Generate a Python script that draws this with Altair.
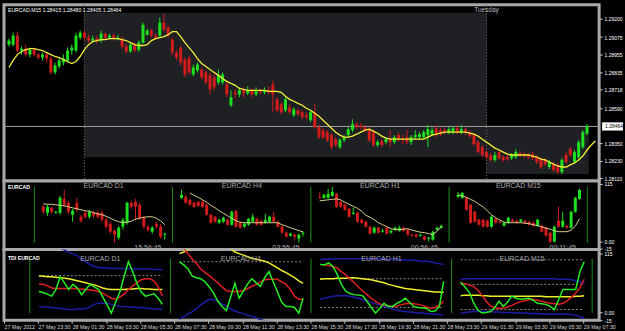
import altair as alt
import pandas as pd

# ---------------- main EURCAD M15 candles (price points, 1e-5) ----------------
OPEN = [129023, 129023, 129085, 128983, 128996, 128955, 128989, 128955, 128935, 128955,
        128928, 128833, 128874, 128901, 128915, 128983, 128983, 129071, 129105, 129071,
        129051, 129064, 129051, 129098, 129071, 129085, 129064, 129064, 129010, 128976,
        129023, 128989, 129037, 129091, 129119, 129085, 129085, 129173, 129139, 129057,
        128969, 129003, 128921, 128928, 128819, 128847, 128853, 128833, 128813, 128799,
        128765, 128765, 128751, 128609, 128697, 128683, 128711, 128690, 128711, 128683,
        128704, 128697, 128711, 128751, 128649, 128615, 128575, 128595, 128541, 128575,
        128561, 128541, 128507, 128561, 128459, 128439, 128425, 128405, 128377, 128323,
        128371, 128405, 128439, 128479, 128473, 128459, 128445, 128425, 128337, 128364,
        128357, 128377, 128357, 128405, 128384, 128391, 128357, 128391, 128391, 128391,
        128405, 128411, 128452, 128439, 128439, 128425, 128425, 128452, 128425, 128445,
        128425, 128405, 128357, 128323, 128289, 128269, 128235, 128289, 128255, 128255,
        128248, 128255, 128282, 128275, 128269, 128275, 128255, 128241, 128235, 128187,
        128207, 128201, 128153, 128269, 128309, 128221, 128255, 128323, 128415]
CLOSE = [129051, 129085, 128983, 128996, 128955, 128989, 128955, 128935, 128955, 128928,
         128833, 128881, 128915, 128928, 128983, 129003, 129085, 129105, 129071, 129051,
         129064, 129051, 129098, 129071, 129085, 129064, 129071, 129010, 128976, 129023,
         128983, 129037, 129159, 129119, 129085, 129071, 129173, 129125, 129085, 128969,
         128935, 128901, 128819, 128833, 128867, 128887, 128799, 128765, 128717, 128731,
         128819, 128819, 128683, 128663, 128683, 128711, 128690, 128711, 128683, 128704,
         128697, 128711, 128697, 128683, 128575, 128561, 128649, 128561, 128581, 128547,
         128527, 128527, 128561, 128459, 128391, 128391, 128371, 128323, 128337, 128371,
         128391, 128445, 128479, 128459, 128459, 128439, 128371, 128337, 128357, 128337,
         128377, 128357, 128391, 128377, 128371, 128357, 128391, 128405, 128411, 128425,
         128445, 128439, 128405, 128411, 128425, 128445, 128452, 128425, 128445, 128425,
         128398, 128343, 128289, 128269, 128255, 128235, 128269, 128248, 128235, 128241,
         128269, 128289, 128269, 128262, 128255, 128248, 128221, 128187, 128207, 128221,
         128167, 128153, 128235, 128221, 128269, 128289, 128357, 128425, 128464]
HIGH = [129064, 129105, 129112, 129010, 129023, 129003, 129003, 128969, 128969, 128969,
        128942, 128901, 128935, 128955, 129003, 129023, 129105, 129119, 129119, 129091,
        129085, 129085, 129119, 129105, 129098, 129098, 129091, 129078, 129030, 129037,
        129037, 129051, 129173, 129132, 129132, 129098, 129207, 129234, 129153, 129071,
        128983, 129017, 128935, 128949, 128887, 128901, 128867, 128847, 128833, 128819,
        128853, 128833, 128765, 128711, 128717, 128731, 128731, 128738, 128724, 128731,
        128724, 128731, 128738, 128779, 128663, 128629, 128663, 128615, 128595, 128588,
        128575, 128561, 128575, 128615, 128473, 128452, 128439, 128418, 128391, 128384,
        128405, 128459, 128513, 128493, 128486, 128473, 128459, 128439, 128371, 128377,
        128391, 128439, 128405, 128425, 128405, 128439, 128405, 128439, 128425, 128439,
        128473, 128459, 128473, 128459, 128452, 128459, 128466, 128473, 128473, 128459,
        128439, 128418, 128371, 128337, 128303, 128282, 128289, 128303, 128269, 128269,
        128282, 128309, 128296, 128289, 128282, 128289, 128269, 128255, 128248, 128235,
        128221, 128214, 128248, 128289, 128323, 128303, 128371, 128439, 128480]
LOW = [129010, 129010, 128969, 128955, 128942, 128935, 128942, 128921, 128915, 128901,
       128819, 128819, 128860, 128881, 128901, 128955, 128969, 129057, 129051, 129037,
       129037, 129030, 129037, 129057, 129057, 129051, 129051, 128996, 128962, 128969,
       128969, 128976, 129030, 129085, 129071, 129057, 129071, 129112, 129071, 128949,
       128915, 128881, 128799, 128819, 128806, 128833, 128785, 128751, 128683, 128711,
       128751, 128751, 128663, 128595, 128656, 128663, 128663, 128677, 128663, 128670,
       128683, 128683, 128683, 128561, 128561, 128547, 128561, 128547, 128527, 128534,
       128513, 128513, 128493, 128445, 128377, 128377, 128357, 128309, 128323, 128309,
       128357, 128391, 128425, 128445, 128445, 128425, 128357, 128323, 128323, 128323,
       128343, 128323, 128343, 128357, 128343, 128343, 128337, 128377, 128377, 128377,
       128323, 128398, 128391, 128398, 128411, 128411, 128411, 128411, 128411, 128405,
       128384, 128330, 128275, 128255, 128241, 128221, 128221, 128235, 128221, 128228,
       128235, 128241, 128255, 128248, 128241, 128235, 128207, 128173, 128194, 128173,
       128153, 128139, 128139, 128207, 128255, 128207, 128241, 128309, 128405]
MA_MAIN = [128867, 128915, 128955, 128976, 128989, 128996, 128996, 128989, 128983, 128969,
           128955, 128942, 128935, 128921, 128908, 128894, 128908, 128942, 128989, 129023,
           129044, 129051, 129057, 129057, 129064, 129064, 129064, 129057, 129051, 129037,
           129023, 129017, 129017, 129023, 129051, 129064, 129071, 129078, 129091, 129112,
           129112, 129078, 129037, 129003, 128969, 128928, 128894, 128874, 128853, 128833,
           128813, 128792, 128772, 128758, 128745, 128724, 128717, 128711, 128711, 128711,
           128711, 128711, 128704, 128704, 128704, 128697, 128670, 128649, 128636, 128622,
           128609, 128588, 128575, 128554, 128534, 128507, 128479, 128452, 128425, 128405,
           128391, 128391, 128398, 128411, 128425, 128439, 128445, 128432, 128418, 128398,
           128384, 128377, 128377, 128377, 128377, 128377, 128377, 128377, 128377, 128377,
           128391, 128405, 128411, 128418, 128425, 128425, 128425, 128425, 128425, 128425,
           128418, 128411, 128398, 128377, 128357, 128337, 128316, 128303, 128289, 128275,
           128269, 128269, 128269, 128269, 128269, 128262, 128255, 128241, 128235, 128221,
           128207, 128194, 128187, 128187, 128201, 128214, 128235, 128262, 128303, 128337,
           128364]

PRICE_TICKS = [1.29200, 1.29075, 1.28955, 1.28835, 1.28718, 1.28590, 1.28350, 1.28230, 1.28110]
BID = 1.28464
BID_BOX = [1.28492, 1.28436]
HEADER = "EURCAD.M15  1.28415 1.28480 1.28405 1.28464"
DAY_BARS = [18, 114]
DAY_NAME = "Tuesday"
BOX_X1 = [18, 114]
BOX_X2 = [114, 138.4]
BOX_HI = [1.29241, 1.28470]
BOX_LO = [1.28255, 1.28139]

X_TICKS = [0, 8, 16, 24, 32, 40, 48, 56, 64, 72, 80, 88, 96, 104, 112, 120, 128, 136]
X_LABELS = ["27 May 2012", "27 May 23:30", "28 May 01:30", "28 May 03:30", "28 May 05:30",
            "28 May 07:30", "28 May 09:30", "28 May 11:30", "28 May 13:30", "28 May 15:30",
            "28 May 17:30", "28 May 19:30", "28 May 21:30", "28 May 23:30", "29 May 01:30",
            "29 May 03:30", "29 May 05:30", "29 May 07:30"]

# ---------------- mini candle panels (0..115 scale), [open, close, high, low] ----------------
TF_NAMES = ["EURCAD D1", "EURCAD H4", "EURCAD H1", "EURCAD M15"]
TF_TIMES = ["15:56:45", "03:55:45", "00:56:45", "00:11:45"]
D1_CANDLES = [[69, 59, 73, 55], [57, 69, 73, 51], [67, 59, 69, 55], [57, 59, 61, 55], [57, 87, 91, 53],
              [85, 73, 103, 69], [77, 59, 81, 55], [53, 61, 65, 39], [77, 63, 87, 59], [49, 41, 53, 37],
              [57, 49, 61, 45], [49, 59, 63, 45], [57, 51, 61, 47], [57, 49, 61, 45], [57, 43, 61, 39],
              [43, 29, 47, 25], [35, 19, 39, 15], [21, 13, 23, -3], [7, 27, 31, 3], [29, 43, 47, 23],
              [37, 77, 79, 33], [77, 69, 81, 65], [79, 69, 85, 43], [73, 47, 77, 43], [47, 29, 51, 25],
              [29, 23, 33, 19], [19, 27, 31, 15], [35, 29, 39, 25], [29, 9, 35, 5], [13, 15, 17, 3]]
H4_CANDLES = [[87, 93, 103, 85], [89, 77, 93, 75], [83, 73, 85, 71], [77, 69, 79, 67], [79, 71, 81, 69],
              [79, 69, 81, 67], [73, 53, 75, 51], [53, 37, 55, 35], [49, 39, 51, 37], [37, 43, 45, 35],
              [39, 47, 49, 37], [43, 33, 45, 31], [33, 59, 61, 31], [61, 29, 63, 27], [37, 27, 39, 25],
              [29, 35, 37, 27], [33, 45, 47, 31], [39, 49, 55, 37], [45, 33, 47, 31], [41, 33, 43, 31],
              [37, 43, 55, 35], [39, 49, 51, 37], [49, 39, 59, 37], [39, 29, 41, 27], [29, 17, 31, 15],
              [17, 9, 19, 7], [11, 15, 17, 9], [13, 9, 15, 1], [5, 13, 15, -3], [15, 17, 19, 9]]
H1_CANDLES = [[89, 87, 99, 85], [87, 93, 95, 85], [87, 95, 105, 85], [91, 99, 109, 89], [95, 69, 97, 67],
              [79, 69, 81, 67], [73, 63, 75, 61], [65, 49, 67, 47], [55, 57, 67, 53], [57, 39, 59, 37],
              [43, 37, 45, 35], [39, 29, 41, 27], [29, 15, 31, 13], [17, 27, 29, 15], [27, 17, 29, 15],
              [19, 21, 25, 17], [27, 15, 29, 13], [17, 21, 23, 15], [23, 27, 29, 21], [21, 27, 31, 19],
              [27, 21, 29, 19], [23, 13, 25, 11], [13, 11, 15, 9], [13, 9, 15, 7], [11, 13, 15, 9],
              [9, 3, 11, 1], [5, 7, 9, -1], [3, 19, 21, 1], [23, 27, 29, 21], [27, 31, 33, 25]]
M15_CANDLES = [[89, 93, 99, 87], [87, 97, 99, 85], [87, 63, 89, 61], [73, 37, 75, 35], [59, 39, 61, 37],
               [43, 33, 45, 31], [43, 29, 45, 27], [41, 29, 43, 27], [29, 49, 51, 27], [45, 37, 47, 35],
               [39, 37, 41, 35], [31, 37, 39, 29], [37, 47, 49, 35], [43, 39, 45, 37], [41, 37, 43, 35],
               [39, 43, 45, 37], [41, 37, 43, 35], [39, 33, 41, 31], [37, 31, 39, 29], [31, 43, 45, 29],
               [31, 19, 33, 17], [27, 11, 29, 9], [17, -1, 19, -5], [-1, 29, 31, -3], [41, 29, 69, 27],
               [29, 41, 59, 27], [31, 27, 33, 25], [27, 59, 61, 25], [59, 87, 89, 57], [85, 103, 105, 83]]
D1_MA = [75, 74, 74, 73, 72, 71, 69, 67, 65, 63, 61, 60, 57, 55, 53, 50, 46, 42, 39, 37,
         38, 40, 44, 46, 48, 49, 49, 46, 41, 33]
H4_MA = [None, None, 97, 92, 88, 83, 78, 72, 67, 61, 56, 51, 46, 41, 38, 37, 37, 37, 37, 37,
         37, 37, 37, 37, 33, 30, 27, 24, 21, 19]
H1_MA = [81, 82, 83, 84, 85, 83, 78, 74, 70, 66, 60, 52, 48, 43, 37, 33, 29, 25, 23, 23,
         24, 25, 22, 20, 18, 17, 15, 13, 20, 29]
M15_MA = [93, 91, 88, 84, 80, 74, 69, 61, 53, 47, 42, 38, 37, 37, 37, 37, 36, 35, 33, 31,
          29, 26, 24, 21, 19, 19, 19, 22, 30, 45]

# ---------------- TDI panels ----------------
D1_GREEN = [41, 39, 36, 32, 45, 70, 58, 45, 55, 48, 35, 45, 55, 50, 45, 30, 15, -1, 20, 40,
            70, 99, 80, 57, 40, 32, 34, 37, 28, 16]
D1_RED = [55, 55, 52, 48, 47, 47, 47, 47, 47, 46, 46, 45, 44, 43, 41, 37, 33, 28, 26, 30,
          36, 45, 52, 58, 64, 66, 66, 62, 50, 32]
D1_YELLOW = [72, 71, 70, 70, 69, 68, 67, 66, 64, 62, 60, 58, 56, 54, 51, 48, 46, 45, 45, 45,
             45, 46, 46, 47, 47, 46, 46, 45, 45, 45]
D1_BLUE_UP = [150, 145, 140, 135, 130, 126, 122, 118, 114, 111, 104, 99, 94, 90, 88, 87, 87, 86, 86, 86,
              86, 86, 85, 85, 85, 85, 85, 84, 84, 84]
D1_BLUE_LO = [12, 11, 11, 10, 9, 8, 7, 6, 6, 7, 7, 8, 11, 16, 18, 18, 18, 16, 14, 12,
              12, 11, 11, 10, 10, 9, 8, 7, 7, 6]
H4_GREEN = [99, 93, 85, 71, 68, 66, 60, 50, 38, 22, 12, 4, 30, 57, 28, 42, 56, 66, 58, 51,
            68, 80, 60, 40, 20, 12, 12, 10, -1, 28]
H4_RED = [135, 125, 115, 104, 95, 85, 78, 72, 65, 58, 50, 43, 41, 41, 41, 43, 47, 51, 55, 60,
          64, 65, 65, 65, 60, 55, 45, 32, 26, 26]
H4_YELLOW = [115, 118, 123, 126, 128, 130, 132, 133, 134, 134, 133, 130, 124, 118, 115, 112, 109, 106, 104, 102,
             100, 97, 92, 87, 82, 78, 73, 68, 62, 57]
H4_BLUE_LO = [-13, -8, -3, 2, 8, 15, 21, 26, 25, 22, 17, 12, 7, 3, 0, -2, -5, -7, -10, -14,
              -16, -17, -18, -19, -20, -20, -21, -21, -22, -22]
H1_GREEN = [94, 93, 97, 90, 75, 55, 42, 37, 35, 34, 33, 22, 10, -1, 8, 18, 12, 12, 18, 22,
            28, 20, 12, 10, 9, 8, 2, 3, 12, 61]
H1_RED = [94, 93, 92, 90, 87, 80, 74, 66, 58, 50, 42, 35, 28, 22, 17, 14, 13, 12, 13, 15,
          17, 18, 17, 16, 14, 11, 8, 10, 15, 22]
H1_YELLOW = [65, 66, 66, 66, 67, 67, 67, 68, 68, 67, 66, 65, 64, 62, 60, 58, 55, 53, 51, 49,
             47, 46, 45, 44, 43, 42, 41, 40, 40, 39]
H1_BLUE_UP = [103, 104, 104, 105, 105, 105, 105, 105, 105, 105, 105, 105, 105, 105, 105, 104, 104, 104, 104, 103,
              103, 102, 102, 101, 100, 100, 99, 97, 95, 94]
H1_BLUE_LO = [26, 28, 30, 32, 33, 33, 33, 32, 30, 28, 25, 22, 20, 17, 15, 12, 10, 7, 5, 3,
              2, 1, 0, -1, -1, -2, -3, -3, -4, -5]
M15_GREEN = [59, 50, 40, 20, 5, -1, 0, 2, 10, 22, 12, 20, 32, 28, 26, 27, 28, 24, 18, 17,
             16, 12, 6, 25, 45, 45, 45, 45, 80, 99]
M15_RED = [57, 56, 54, 51, 44, 34, 22, 13, 10, 8, 9, 11, 14, 18, 21, 23, 25, 26, 24, 22,
           20, 18, 17, 16, 18, 23, 30, 38, 48, 65]
M15_YELLOW = [33, 34, 34, 34, 34, 33, 33, 32, 32, 32, 32, 32, 32, 32, 32, 32, 32, 32, 32, 32,
              31, 31, 31, 31, 31, 31, 31, 32, 32, 33]
M15_BLUE_UP = [65, 66, 66, 66, 66, 66, 66, 66, 66, 66, 66, 66, 66, 66, 66, 66, 66, 66, 66, 66,
               66, 66, 66, 65, 65, 65, 64, 62, 60, 57]
M15_BLUE_LO = [-1, 0, 1, 2, 2, 2, 2, 2, 1, 1, 0, 0, 0, -1, -1, -1, -2, -2, -2, -3,
               -3, -3, -3, -3, -3, -3, -4, -5, -8, -11]
D1_LEVELS = [72, -13]
H4_LEVELS = [99, -13]
H1_LEVELS = [66, 10]
M15_LEVELS = [103, 55, 6]

# ---------------- styling / layout constants ----------------
W = 598
X_DOMAIN = [0, 139.7]
P_DOMAIN = [1.280918, 1.292954]
MID_DOMAIN = [-17, 121]
BOT_DOMAIN = [-15, 122.8]
MINI_FIRST = 8.2
MINI_SLOT = 33
UP, DOWN = "#1ee01e", "#d21c1c"
FONT = "Liberation Sans"

price_axis = alt.Axis(orient="right", values=PRICE_TICKS, format=".5f", labelColor="#ffffff",
                      labelFontSize=5, labelFont=FONT, tickColor="#d0d0d0", tickSize=3,
                      domain=False, grid=False, labelPadding=2, title=None, labelOverlap=False)


def level_axis():
    return alt.Axis(orient="right", values=[115, 0, -15],
                    labelExpr="datum.value == 0 ? '0.00' : '' + datum.value",
                    labelColor="#ffffff", labelFontSize=5, labelFont=FONT, tickColor="#d0d0d0",
                    tickSize=3, domain=False, grid=False, labelPadding=2, title=None,
                    labelOverlap=False)


x_axis = alt.Axis(orient="bottom", values=X_TICKS,
                  labelExpr="[" + ",".join(f"'{s}'" for s in X_LABELS) + "][datum.value / 8]",
                  labelAlign="left", labelFontSize=5.3, labelFont=FONT, labelColor="#d8d8d8",
                  tickColor="#c0c0c0", tickSize=3, domain=False, grid=False, labelPadding=1,
                  labelOverlap=False, labelFlush=False, labelBound=False, title=None)


def xq(field, axis=None):
    return alt.X(f"{field}:Q", scale=alt.Scale(domain=X_DOMAIN, nice=False, zero=False), axis=axis)


def yq(field, domain, axis):
    return alt.Y(f"{field}:Q", scale=alt.Scale(domain=domain, nice=False, zero=False), axis=axis)


dir_color = alt.Color("dir:N", scale=alt.Scale(domain=["up", "down"], range=[UP, DOWN]), legend=None)

# ---------------- main panel ----------------
main_df = pd.DataFrame({
    "bar": list(range(len(OPEN))),
    "o": [v / 1e5 for v in OPEN],
    "c": [v / 1e5 for v in CLOSE],
    "h": [v / 1e5 for v in HIGH],
    "l": [v / 1e5 for v in LOW],
})
main_df["dir"] = ["up" if c >= o else "down" for o, c in zip(main_df.o, main_df.c)]
ma_df = pd.DataFrame({"bar": list(range(len(MA_MAIN))), "ma": [v / 1e5 for v in MA_MAIN]})
box_df = pd.DataFrame({"x1": BOX_X1, "x2": BOX_X2, "hi": BOX_HI, "lo": BOX_LO})
day_df = pd.DataFrame({"bar": DAY_BARS})
bid_df = pd.DataFrame({"p": [BID], "t": [f"{BID:.5f}"], "b1": [BID_BOX[0]], "b2": [BID_BOX[1]]})
hdr_df = pd.DataFrame({"t": [HEADER]})
tue_df = pd.DataFrame({"bar": [DAY_BARS[1]], "t": [DAY_NAME]})

PA = price_axis
main = alt.layer(
    alt.Chart(box_df).mark_rect(color="#1e2024").encode(
        x=xq("x1"), x2="x2:Q", y=yq("hi", P_DOMAIN, PA), y2="lo:Q"),
    alt.Chart(day_df).mark_rule(color="#7a7a7a", strokeDash=[1, 2]).encode(x=xq("bar")),
    alt.Chart(bid_df).mark_rule(color="#a0a0a0", strokeWidth=1).encode(y=yq("p", P_DOMAIN, PA)),
    alt.Chart(main_df).mark_rule(strokeWidth=1).encode(
        x=xq("bar"), y=yq("l", P_DOMAIN, PA), y2="h:Q", color=dir_color),
    alt.Chart(main_df).mark_bar(size=3).encode(
        x=xq("bar"), y=yq("o", P_DOMAIN, PA), y2="c:Q", color=dir_color),
    alt.Chart(ma_df).mark_line(color="#f2ee3a", strokeWidth=1.3, clip=True).encode(
        x=xq("bar"), y=yq("ma", P_DOMAIN, PA)),
    alt.Chart(bid_df).mark_rect(color="#ffffff").encode(
        x=alt.value(601), x2=alt.value(622), y=yq("b1", P_DOMAIN, PA), y2="b2:Q"),
    alt.Chart(bid_df).mark_text(align="left", baseline="middle", fontSize=5, font=FONT,
                                color="#000000").encode(
        x=alt.value(604), y=yq("p", P_DOMAIN, PA), text="t:N"),
    alt.Chart(hdr_df).mark_text(align="left", baseline="middle", fontSize=5.2, font=FONT,
                                color="#ffffff").encode(
        x=alt.value(4), y=alt.value(5), text="t:N"),
    alt.Chart(tue_df).mark_text(align="center", baseline="middle", fontSize=6.5, font=FONT,
                                color="#b8b8b8").encode(
        x=xq("bar"), y=alt.value(5), text="t:N"),
).properties(width=W, height=177)

# ---------------- mini candle panel ----------------
mini_sets = [D1_CANDLES, H4_CANDLES, H1_CANDLES, M15_CANDLES]
mini_mas = [D1_MA, H4_MA, H1_MA, M15_MA]
rows, ma_rows = [], []
for k, (cands, mas) in enumerate(zip(mini_sets, mini_mas)):
    base = MINI_FIRST + MINI_SLOT * k
    for j, (o, c, h, l) in enumerate(cands):
        rows.append({"tf": TF_NAMES[k], "bar": base + j, "o": o, "c": c, "h": h, "l": l,
                     "dir": "up" if c >= o else "down"})
    for j, m in enumerate(mas):
        ma_rows.append({"tf": TF_NAMES[k], "bar": base + j, "ma": m})
mini_df = pd.DataFrame(rows)
mini_ma_df = pd.DataFrame(ma_rows)
sep_df = pd.DataFrame({"bar": [MINI_FIRST - 2.13 + MINI_SLOT * k for k in range(5)]})
ttl_df = pd.DataFrame({"bar": [MINI_FIRST + 14.4 + MINI_SLOT * k for k in range(4)], "t": TF_NAMES})
time_df = pd.DataFrame({"bar": [MINI_FIRST + 28.2 + MINI_SLOT * k for k in range(4)], "t": TF_TIMES})

MA_ = level_axis()
mid = alt.layer(
    alt.Chart(sep_df).mark_rule(color="#1f8f1f", strokeWidth=1).encode(
        x=xq("bar"), y=yq("top", MID_DOMAIN, MA_), y2="bot:Q"
    ).transform_calculate(top="109", bot="-3"),
    alt.Chart(mini_df).mark_rule(strokeWidth=1).encode(
        x=xq("bar"), y=yq("l", MID_DOMAIN, MA_), y2="h:Q", color=dir_color),
    alt.Chart(mini_df).mark_bar(size=3).encode(
        x=xq("bar"), y=yq("o", MID_DOMAIN, MA_), y2="c:Q", color=dir_color),
    alt.Chart(mini_ma_df).mark_line(color="#d9cf8a", strokeWidth=1).encode(
        x=xq("bar"), y=yq("ma", MID_DOMAIN, MA_), detail="tf:N"),
    alt.Chart(ttl_df).mark_text(fontSize=7, font=FONT, color="#a8a8a8", baseline="middle").encode(
        x=xq("bar"), y=alt.value(5), text="t:N"),
    alt.Chart(time_df).mark_text(fontSize=7, font=FONT, color="#a8a8a8", align="right",
                                 baseline="middle").encode(
        x=xq("bar"), y=alt.value(67), text="t:N"),
    alt.Chart(pd.DataFrame({"t": ["EURCAD"]})).mark_text(
        align="left", baseline="middle", fontSize=5.2, font=FONT, fontWeight="bold",
        color="#ffffff").encode(x=alt.value(4), y=alt.value(6), text="t:N"),
).properties(width=W, height=69)

# ---------------- TDI panel ----------------
tdi_sets = [
    {"blue_up": D1_BLUE_UP, "blue_lo": D1_BLUE_LO, "yellow": D1_YELLOW, "red": D1_RED, "green": D1_GREEN},
    {"blue_lo": H4_BLUE_LO, "yellow": H4_YELLOW, "red": H4_RED, "green": H4_GREEN},
    {"blue_up": H1_BLUE_UP, "blue_lo": H1_BLUE_LO, "yellow": H1_YELLOW, "red": H1_RED, "green": H1_GREEN},
    {"blue_up": M15_BLUE_UP, "blue_lo": M15_BLUE_LO, "yellow": M15_YELLOW, "red": M15_RED, "green": M15_GREEN},
]
levels = [D1_LEVELS, H4_LEVELS, H1_LEVELS, M15_LEVELS]
trows, lrows = [], []
for k, sset in enumerate(tdi_sets):
    base = MINI_FIRST + MINI_SLOT * k
    for name, vals in sset.items():
        for j, v in enumerate(vals):
            trows.append({"tf": TF_NAMES[k], "s": name, "bar": base + j, "v": v})
    for lv in levels[k]:
        lrows.append({"tf": TF_NAMES[k], "x1": base, "x2": base + 29, "v": lv})
tdi_df = pd.DataFrame(trows)
lvl_df = pd.DataFrame(lrows)
TDI_COLORS = {"blue_up": "#1c1ca8", "blue_lo": "#1c1ca8", "yellow": "#f0ee28",
              "red": "#e02020", "green": "#22ee22"}

BA = level_axis()
XA = x_axis
tdi_layers = [
    alt.Chart(sep_df).mark_rule(color="#1f8f1f", strokeWidth=1).encode(
        x=xq("bar", XA), y=yq("top", BOT_DOMAIN, BA), y2="bot:Q"
    ).transform_calculate(top="105", bot="-1"),
    alt.Chart(lvl_df).mark_rule(color="#8a8a8a", strokeDash=[2, 2], strokeWidth=1).encode(
        x=xq("x1", XA), x2="x2:Q", y=yq("v", BOT_DOMAIN, BA)),
]
for s in ["blue_up", "blue_lo", "yellow", "red", "green"]:
    tdi_layers.append(
        alt.Chart(tdi_df).transform_filter(f"datum.s == '{s}'").mark_line(
            color=TDI_COLORS[s], strokeWidth=1.5, clip=True).encode(
            x=xq("bar", XA), y=yq("v", BOT_DOMAIN, BA), detail="tf:N"))
tdi_layers += [
    alt.Chart(ttl_df).mark_text(fontSize=7, font=FONT, color="#a8a8a8", baseline="middle").encode(
        x=xq("bar", XA), y=alt.value(9), text="t:N"),
    alt.Chart(pd.DataFrame({"t": ["TDI EURCAD"]})).mark_text(
        align="left", baseline="middle", fontSize=5.2, font=FONT, fontWeight="bold",
        color="#ffffff").encode(x=alt.value(4), y=alt.value(8), text="t:N"),
]
bot = alt.layer(*tdi_layers).properties(width=W, height=71)

chart = alt.vconcat(main, mid, bot, spacing=0, bounds="flush").resolve_scale(
    x="independent", y="independent", color="independent"
).properties(
    padding={"left": 2, "top": 2, "right": 0, "bottom": 0},
    background="#000000",
).configure_view(
    stroke="#a8a8a8", strokeWidth=3, fill="#000000"
).configure_axis(labelFont=FONT)

chart.save("out.html", embed_options={"renderer": "svg", "actions": False})
